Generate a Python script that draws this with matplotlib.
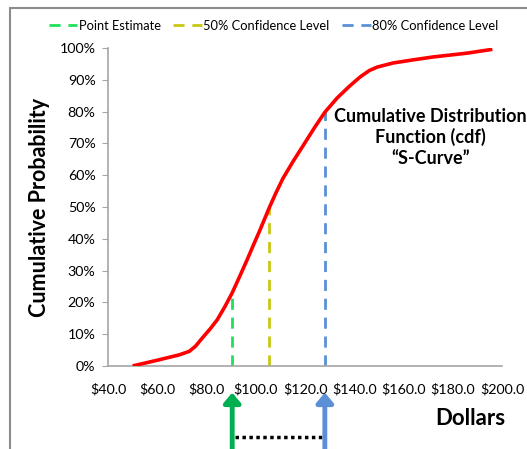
import matplotlib
matplotlib.use("Agg")
from matplotlib import pyplot as plt
from matplotlib.patches import Rectangle
from matplotlib.ticker import FuncFormatter, MultipleLocator
import matplotlib.transforms as mtransforms

plt.rcParams['font.family'] = ['Lato', 'DejaVu Sans']

# S-curve
dollars = [50, 60, 69, 73, 75.5, 78.6, 81.5, 84.3, 87.4, 90.4, 93.4, 96.4, 99, 101.7, 105.4,
           108, 111, 115, 120, 124, 128, 133, 138, 142.3, 146, 149.2, 155.7, 164, 172, 185.8, 196]
probability = [0, 1.8, 3.5, 4.6, 6.2, 9.1, 11.7, 14.5, 18.6, 23, 28.1, 33.3, 38, 42.8, 49.7,
               54.2, 59.0, 64.2, 70.3, 75.2, 79.8, 84.3, 88.0, 90.9, 92.9, 94, 95.3, 96.3, 97.2,
               98.4, 99.6]

# confidence markers
marker_labels = ["Point Estimate", "50% Confidence Level", "80% Confidence Level"]
marker_x = [90.4, 105.5, 128]
marker_y = [24, 50, 80]
marker_colors = ["#1ee05a", "#c8c814", "#5b8fd6"]

fig = plt.figure(figsize=(5.27, 4.49), dpi=100)
ax = fig.add_axes([0.205, 0.185, 0.748, 0.708])

ax.plot(dollars, probability, color="red", lw=2.6, solid_joinstyle="round",
        solid_capstyle="butt", zorder=3)
for lab, mx, my, c in zip(marker_labels, marker_x, marker_y, marker_colors):
    ax.plot([mx, mx], [0, my], color=c, lw=2, ls=(0, (4, 2.8)), label=lab, zorder=2)

ax.set_xlim(40, 200)
ax.set_ylim(0, 100)
ax.xaxis.set_major_locator(MultipleLocator(20))
ax.yaxis.set_major_locator(MultipleLocator(10))
ax.xaxis.set_major_formatter(FuncFormatter(lambda v, p: f"${v:.1f}"))
ax.yaxis.set_major_formatter(FuncFormatter(lambda v, p: f"{v:.0f}%"))
for s in ["top", "right"]:
    ax.spines[s].set_visible(False)
for s in ["left", "bottom"]:
    ax.spines[s].set_color("#a6a6a6")
    ax.spines[s].set_linewidth(1.2)
ax.tick_params(axis="y", length=4, color="#a6a6a6", labelsize=10.3, pad=5)
ax.tick_params(axis="x", length=0, labelsize=10.3, pad=12)

ax.text(-0.173, 0.5, "Cumulative Probability", transform=ax.transAxes, rotation=90,
        fontsize=15.5, fontweight="bold", ha="center", va="center")
ax.text(0.919, -0.164, "Dollars", transform=ax.transAxes, fontsize=16, fontweight="bold",
        ha="center", va="center")

ax.text(170.8, 72, "Cumulative Distribution\nFunction (cdf)\n\u201cS-Curve\u201d", fontsize=13,
        fontweight="bold", ha="center", va="center", linespacing=1.24, clip_on=False)

ax.legend(loc="center", bbox_to_anchor=(0.42, 1.07), ncol=3, frameon=False,
          fontsize=9.3, handlelength=2.2, handletextpad=0.1, columnspacing=1.0)

# arrows below the axis
trans = mtransforms.blended_transform_factory(ax.transData, ax.transAxes)
ax.annotate("", xy=(marker_x[0], -0.075), xytext=(marker_x[0], -0.27), xycoords=trans,
            textcoords=trans, annotation_clip=False,
            arrowprops=dict(arrowstyle="-|>,head_width=0.5,head_length=0.6", color="#00b050", lw=3.5))
ax.annotate("", xy=(marker_x[2], -0.075), xytext=(marker_x[2], -0.27), xycoords=trans,
            textcoords=trans, annotation_clip=False,
            arrowprops=dict(arrowstyle="-|>,head_width=0.5,head_length=0.6", color="#5b8fd6", lw=3.5))
ax.plot([marker_x[0] + 1, marker_x[2] - 1], [-0.225, -0.225], transform=trans, color="black",
        lw=2.5, ls=(0, (1, 1)), clip_on=False)

# chart area border
fig.add_artist(Rectangle((0.019, -0.05), 1.2, 1.032, transform=fig.transFigure, fill=False,
                         edgecolor="#8c8c8c", lw=1.5))

fig.savefig("out.png", dpi=100)
